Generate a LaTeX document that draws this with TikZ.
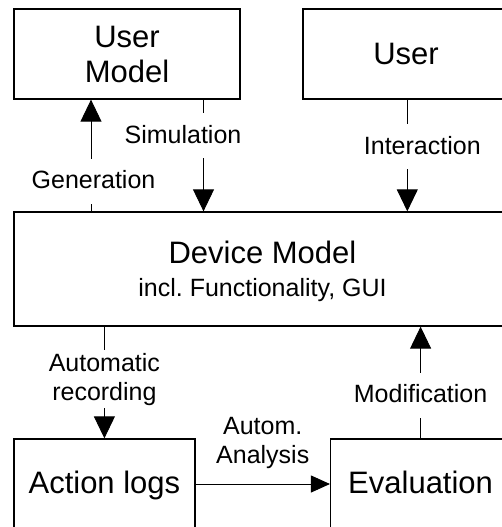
\documentclass[tikz,border=0pt]{standalone}
\usepackage{fontspec}
\setmainfont{Liberation Sans}
\usetikzlibrary{arrows.meta}

\begin{document}
\begin{tikzpicture}[
    x=1pt,
    y=-1pt,
    ->,
    >={Triangle[length=22pt,width=21pt]},
    line width=0.9pt,
    block/.style={draw,line width=1.3pt,inner sep=0pt,font=\fontsize{31}{35}\selectfont,align=center},
    lab/.style={fill=white,font=\fontsize{25}{29}\selectfont,inner xsep=2pt,inner ysep=11pt,text height=19pt,text depth=4pt},
    lab2/.style={fill=white,font=\fontsize{25}{29}\selectfont,inner sep=3pt,align=center}
]
	\useasboundingbox (0,0) rectangle (501,527);

	\node[block,minimum width=226pt,minimum height=90pt] (UserModel) at (127,54) {User\\Model};
	\node[block,minimum width=206pt,minimum height=90pt] (User) at (406,54) {User};
	\node[block,minimum width=497pt,minimum height=114pt,font=\fontsize{31}{33}\selectfont] (Device) at (262.5,269)
		{Device Model\\{\fontsize{25}{33}\selectfont\smash{incl.\ Functionality, GUI}}};
	\node[block,minimum width=181pt,text height=54pt,text depth=45pt,anchor=base] (Logs) at (104.4,493) {Action logs};
	\node[block,minimum width=180pt,text height=54pt,text depth=45pt,anchor=base] (Eval) at (420.6,493) {Evaluation};

	\coordinate (genX) at (91,0);
	\coordinate (simX) at (203.5,0);
	\coordinate (intX) at (407.3,0);
	\coordinate (anaY) at (0,484);

	\path
		(Device.north -| genX) edge node[lab,pos=0.27,xshift=2.5pt] {Generation} (UserModel.south -| genX)
		(UserModel.south -| simX) edge node[lab,pos=0.323,xshift=-20.5pt] {Simulation} (Device.north -| simX)
		(User.south -| intX) edge node[lab,pos=0.42,xshift=15pt] {Interaction} (Device.north -| intX)
		(Device.south -| Logs.north) edge node[lab2,pos=0.47] {Automatic\\recording} (Logs.north)
		(Eval.north) edge node[lab,pos=0.385] {Modification} (Device.south -| Eval.north)
		(Logs.east |- anaY) edge[>={Triangle[length=19pt,width=17pt]}] node[lab2,above=12pt] {Autom.\\Analysis} (Eval.west |- anaY);
\end{tikzpicture}
\end{document}
